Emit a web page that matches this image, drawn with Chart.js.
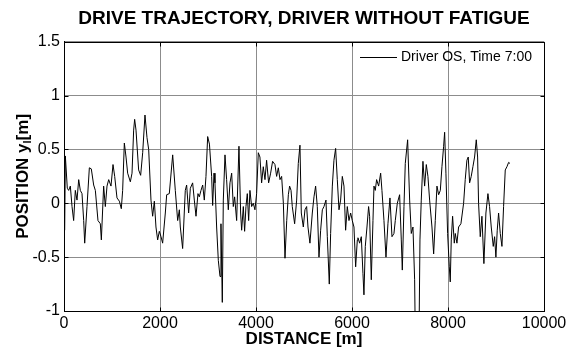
<!DOCTYPE html>
<html>
<head>
<meta charset="utf-8">
<script src="https://cdn.jsdelivr.net/npm/chart.js@4/dist/chart.umd.min.js"></script>
<style>
  html, body { margin: 0; padding: 0; background: #fff; }
  #wrap { width: 571px; height: 351px; }
</style>
</head>
<body>
<div id="wrap"><canvas id="trajChart"></canvas></div>
<script>
// Distance along the track [m]
const distance = [
  14, 28, 69, 97, 132, 167, 201, 236, 271, 306, 340, 375, 410, 431, 479, 528, 569, 618, 653, 708,
  757, 778, 826, 861, 896, 931, 979, 1021, 1056, 1104, 1153, 1194, 1222, 1257, 1292, 1326, 1382, 1417, 1451, 1472,
  1500, 1555, 1597, 1639, 1687, 1729, 1764, 1812, 1847, 1882, 1916, 1951, 1986, 2021, 2055, 2111, 2139, 2194, 2264, 2319,
  2368, 2403, 2423, 2472, 2527, 2555, 2597, 2632, 2680, 2715, 2750, 2791, 2819, 2854, 2889, 2923, 2958, 2993, 3030,
  3076, 3097, 3125, 3145, 3180, 3215, 3250, 3270, 3298, 3319, 3354, 3388, 3423, 3458, 3493, 3527, 3555, 3597, 3645,
  3680, 3701, 3736, 3763, 3791, 3819, 3847, 3874, 3909, 3944, 3978, 4013, 4048, 4082, 4117, 4152, 4187, 4221, 4263,
  4305, 4346, 4395, 4430, 4465, 4500, 4534, 4570, 4604,
  4640, 4674, 4700, 4730, 4756, 4805, 4847, 4881, 4916, 4944, 4986, 5020, 5055, 5083, 5124, 5173, 5208, 5242, 5277,
  5312, 5347, 5382, 5416, 5458, 5486, 5527, 5555, 5590, 5624, 5659, 5694, 5729, 5763, 5798, 5833, 5867, 5902, 5937,
  5972, 6006, 6041, 6076, 6111,
  6124, 6159, 6194, 6228, 6249, 6277, 6312, 6346, 6367, 6402, 6437, 6458, 6485, 6513, 6555, 6597, 6624, 6666, 6708,
  6749, 6791, 6833, 6874, 6902, 6944, 6992, 7027, 7048, 7083, 7110, 7159, 7201, 7235, 7270, 7305, 7320, 7395, 7416,
  7443, 7478, 7513, 7548, 7582, 7617, 7666, 7701,
  7735, 7770, 7805, 7840, 7874, 7909, 7930, 7957, 7992, 8027, 8047, 8068, 8096, 8131, 8152, 8186, 8221, 8269, 8325,
  8359, 8394, 8422, 8450, 8484, 8519, 8554, 8589, 8617, 8637, 8672, 8707, 8748, 8790, 8832, 8866, 8901, 8943, 8971,
  8998, 9026, 9054, 9089, 9124, 9158, 9193, 9228, 9263, 9291
];

// Lateral position y_l [m]
const position = [
  -0.25, 0.44, 0.14, 0.12, 0.16, -0.03, -0.16, 0.12, 0.03, 0.22, 0.12, 0.09, -0.16, -0.37, -0.03, 0.33, 0.32, 0.17, 0.12, -0.16,
  -0.19, -0.34, 0.16, -0.03, 0.16, 0.22, 0.16, 0.36, 0.25, 0.05, 0.02, -0.05, 0.12, 0.56, 0.43, 0.28, 0.20, 0.28, 0.68, 0.78,
  0.68, 0.31, 0.26, 0.47, 0.82, 0.61, 0.50, 0.03, -0.12, 0.02, -0.22, -0.34, -0.26, -0.31, -0.37, -0.09, 0.08, 0.09, 0.45, 0.12,
  -0.16, -0.06, -0.22, -0.42, 0.12, 0.17, -0.09, 0.14, 0.19, 0.03, -0.12, 0.09, 0.06, 0.12, 0.17, 0.03, 0.25, 0.62, 0.55,
  0.25, -0.02, 0.28, 0.19, -0.22, -0.53, -0.68, -0.19, -0.92, 0.03, 0.45, 0.22, -0.06, 0.19, 0.28, -0.03, 0.06, -0.16, 0.53,
  -0.09, -0.25, -0.03, -0.26, -0.03, 0.09, -0.16, 0.12, -0.03, 0.00, -0.06, 0.09, 0.47, 0.43, 0.19, 0.34, 0.22, 0.40, 0.19,
  0.28, 0.39, 0.36, 0.25, 0.33, 0.22, 0.25, 0.00, -0.51,
  -0.16, 0.08, 0.16, 0.12, -0.03, -0.19, 0.03, 0.37, 0.54, -0.09, -0.22, -0.06, -0.03, -0.22, -0.37, -0.09, 0.06, 0.16, -0.03,
  -0.50, -0.25, -0.06, -0.03, 0.03, -0.31, -0.75, -0.28, 0.16, 0.40, 0.51, 0.22, -0.06, 0.03, 0.25, 0.16, -0.25, -0.03, -0.16,
  -0.09, -0.16, -0.22, -0.59, -0.34,
  -0.32, -0.37, -0.31, -0.65, -0.85, -0.40, -0.22, -0.03, -0.12, -0.71, -0.16, 0.16, 0.12, 0.22, 0.16, 0.28, 0.12, -0.16, -0.50,
  -0.19, 0.05, -0.31, -0.28, -0.16, 0.00, 0.08, -0.34, -0.62, -0.03, 0.37, 0.59, 0.03, -0.28, -0.22, -0.71, -1.3, -1.3, -0.34,
  0.03, 0.39, 0.16, 0.36, 0.25, 0.03, -0.22, -0.47,
  -0.16, 0.16, 0.08, 0.12, 0.34, 0.53, 0.66, 0.28, -0.28, -0.59, -0.73, -0.34, -0.12, -0.37, -0.28, -0.37, -0.22, -0.19, 0.00,
  0.22, 0.40, 0.43, 0.19, 0.25, 0.34, 0.43, 0.59, 0.43, 0.00, -0.31, -0.12, -0.56, -0.09, 0.09, -0.03, -0.22, -0.40, -0.31,
  -0.50, -0.25, -0.09, -0.28, -0.40, -0.03, 0.31, 0.34, 0.38, 0.37
];

const xTicks = [0, 2000, 4000, 6000, 8000, 10000];
const yTicks = [-1, -0.5, 0, 0.5, 1, 1.5];
const seriesLabel = "Driver OS, Time 7:00";

const FONT = "'Liberation Sans', Arial, Helvetica, sans-serif";
const GRID = "#8c8c8c";

// MATLAB-like frame: black box, inward ticks, y label with subscript, legend
const matlabFrame = {
  id: "matlabFrame",
  afterDraw(chart) {
    const { ctx, chartArea: a, scales } = chart;
    const l = Math.round(a.left) + 0.5, r = Math.round(a.right) + 0.5;
    const t = Math.round(a.top) + 0.5, b = Math.round(a.bottom) + 0.5;
    ctx.save();
    ctx.strokeStyle = "#000";
    ctx.lineWidth = 1;
    ctx.beginPath();
    ctx.rect(l, t, r - l, b - t);
    xTicks.forEach(v => {
      const px = Math.round(scales.x.getPixelForValue(v)) + 0.5;
      ctx.moveTo(px, b); ctx.lineTo(px, b - 4);
      ctx.moveTo(px, t); ctx.lineTo(px, t + 4);
    });
    yTicks.forEach(v => {
      const py = Math.round(scales.y.getPixelForValue(v)) + 0.5;
      ctx.moveTo(l, py); ctx.lineTo(l + 4, py);
      ctx.moveTo(r, py); ctx.lineTo(r - 4, py);
    });
    ctx.stroke();

    // y axis title: POSITION y_l[m]
    ctx.fillStyle = "#000";
    ctx.textBaseline = "middle";
    ctx.translate(23, (a.top + a.bottom) / 2);
    ctx.rotate(-Math.PI / 2);
    const big = "bold 17px " + FONT, small = "bold 11px " + FONT;
    ctx.font = big;
    const p1 = "POSITION y", p3 = "[m]";
    const w1 = ctx.measureText(p1).width, w3 = ctx.measureText(p3).width;
    ctx.font = small;
    const w2 = ctx.measureText("l").width;
    let x0 = -(w1 + w2 + w3) / 2;
    ctx.font = big;
    ctx.textAlign = "left";
    ctx.fillText(p1, x0, 0);
    ctx.font = small;
    ctx.fillText("l", x0 + w1, 5);
    ctx.font = big;
    ctx.fillText(p3, x0 + w1 + w2, 0);
    ctx.restore();

    // legend
    ctx.save();
    const ly = Math.round(a.top) + 15.5;
    ctx.strokeStyle = "#000";
    ctx.beginPath();
    ctx.moveTo(a.right - 184, ly);
    ctx.lineTo(a.right - 147, ly);
    ctx.stroke();
    ctx.fillStyle = "#000";
    ctx.font = "14px " + FONT;
    ctx.textBaseline = "middle";
    ctx.textAlign = "left";
    ctx.fillText(seriesLabel, a.right - 143, ly);
    ctx.restore();
  }
};

new Chart(document.getElementById("trajChart"), {
  type: "line",
  data: {
    datasets: [{
      label: seriesLabel,
      data: distance.map((d, i) => ({ x: d, y: position[i] })),
      borderColor: "#000",
      borderWidth: 1,
      pointRadius: 0,
      tension: 0,
      fill: false
    }]
  },
  options: {
    responsive: true,
    maintainAspectRatio: false,
    animation: false,
    layout: { padding: { left: 0, right: 27, top: 0, bottom: 0 } },
    plugins: {
      legend: { display: false },
      tooltip: { enabled: false },
      title: {
        display: true,
        fullSize: false,
        text: "DRIVE TRAJECTORY, DRIVER WITHOUT FATIGUE",
        color: "#000",
        font: { family: FONT, size: 19, weight: "bold" },
        padding: { top: 7, bottom: 12 }
      }
    },
    scales: {
      x: {
        type: "linear",
        min: 0,
        max: 10000,
        afterBuildTicks: s => { s.ticks = xTicks.map(v => ({ value: v })); },
        afterFit: s => { s.height = 40; },
        ticks: {
          color: "#000",
          padding: 3,
          maxRotation: 0,
          font: { family: FONT, size: 16 },
          callback: v => String(v)
        },
        grid: { color: GRID, lineWidth: 1, drawTicks: false },
        border: { color: "#000" },
        title: {
          display: true,
          text: "DISTANCE [m]",
          color: "#000",
          font: { family: FONT, size: 17, weight: "bold" },
          padding: { top: 0, bottom: 1 }
        }
      },
      y: {
        type: "linear",
        min: -1,
        max: 1.5,
        afterBuildTicks: s => { s.ticks = yTicks.map(v => ({ value: v })); },
        afterFit: s => { s.width = 64; },
        ticks: {
          color: "#000",
          padding: 4,
          font: { family: FONT, size: 16 },
          callback: v => String(v)
        },
        grid: { color: GRID, lineWidth: 1, drawTicks: false },
        border: { color: "#000" }
      }
    }
  },
  plugins: [matlabFrame]
});
</script>
</body>
</html>
